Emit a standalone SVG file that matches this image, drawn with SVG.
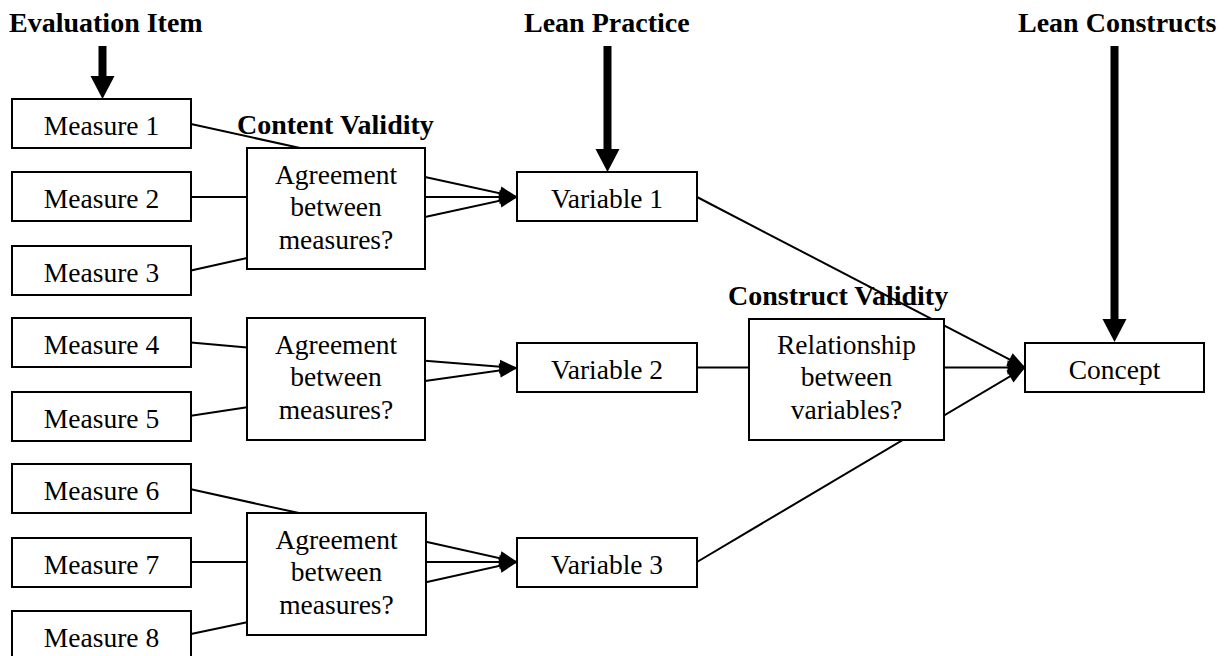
<svg xmlns="http://www.w3.org/2000/svg" width="1228" height="656" viewBox="0 0 1228 656">
  <style>
    .box { fill: #ffffff; stroke: #000000; stroke-width: 2; }
    .node-text { font-family: "Liberation Serif", "Times New Roman", serif; font-size: 27.5px; fill: #000000; text-anchor: middle; }
    .heading { font-family: "Liberation Serif", "Times New Roman", serif; font-size: 28px; font-weight: bold; fill: #000000; }
    .link { fill: none; stroke: #000000; stroke-width: 2; }
    .arrow { fill: none; stroke: #000000; stroke-width: 2; marker-end: url(#head); }
    .thick { fill: none; stroke: #000000; stroke-width: 8; marker-end: url(#bighead); }
  </style>
  <defs>
    <marker id="head" markerUnits="userSpaceOnUse" markerWidth="20" markerHeight="16" viewBox="0 -8 19 16" refX="17.5" refY="0" orient="auto">
      <path d="M0,-7 L18,0 L0,7 Z" fill="#000000"/>
    </marker>
    <marker id="bighead" markerUnits="userSpaceOnUse" markerWidth="26" markerHeight="26" viewBox="0 -13 24 26" refX="0" refY="0" orient="auto">
      <path d="M0,-12 L23,0 L0,12 Z" fill="#000000"/>
    </marker>
  </defs>

  <rect width="1228" height="656" fill="#ffffff"/>

  <!-- column headings and validity labels -->
  <g id="evaluation-item"><text class="heading" x="9" y="32">Evaluation Item</text></g>
  <g id="lean-practice"><text class="heading" x="524" y="32">Lean Practice</text></g>
  <g id="lean-constructs"><text class="heading" x="1018" y="32">Lean Constructs</text></g>
  <g id="content-validity"><text class="heading" x="237" y="134">Content Validity</text></g>
  <g id="construct-validity"><text class="heading" x="728" y="305">Construct Validity</text></g>

  <g id="connectors">
    <!-- heading arrows -->
    <line class="thick" x1="102.5" y1="46" x2="102.5" y2="76"/>
    <line class="thick" x1="607.5" y1="46" x2="607.5" y2="149"/>
    <line class="thick" x1="1114.5" y1="46" x2="1114.5" y2="319"/>

    <!-- measures to agreement checks -->
    <line class="link" x1="191" y1="124" x2="300" y2="148"/>
    <line class="link" x1="191" y1="197" x2="247" y2="197"/>
    <line class="link" x1="191" y1="270.5" x2="247" y2="258"/>
    <line class="link" x1="191" y1="342.5" x2="247" y2="347.5"/>
    <line class="link" x1="191" y1="415.7" x2="247" y2="407.3"/>
    <line class="link" x1="191" y1="489.3" x2="300" y2="513.3"/>
    <line class="link" x1="191" y1="562" x2="247" y2="562"/>
    <line class="link" x1="191" y1="634" x2="247" y2="622.3"/>

    <!-- agreement checks to variables -->
    <line class="arrow" x1="425" y1="177" x2="517" y2="197"/>
    <line class="arrow" x1="425" y1="197" x2="517" y2="197"/>
    <line class="arrow" x1="425" y1="217" x2="517" y2="197"/>
    <line class="arrow" x1="425" y1="360.7" x2="517" y2="368"/>
    <line class="arrow" x1="425" y1="381" x2="517" y2="368"/>
    <line class="arrow" x1="426" y1="541.7" x2="517" y2="562"/>
    <line class="arrow" x1="426" y1="562" x2="517" y2="562"/>
    <line class="arrow" x1="426" y1="582.3" x2="517" y2="562"/>

    <!-- variables to concept -->
    <line class="arrow" x1="697" y1="197" x2="1025" y2="367.5"/>
    <line class="link" x1="697" y1="367.5" x2="749" y2="367.5"/>
    <line class="arrow" x1="944" y1="367.5" x2="1025" y2="367.5"/>
    <line class="arrow" x1="697" y1="562" x2="1025" y2="367.5"/>
  </g>

  <!-- measures -->
  <g id="measure-1"><rect class="box" x="12" y="99" width="179" height="49"/><text class="node-text" x="101.5" y="135">Measure 1</text></g>
  <g id="measure-2"><rect class="box" x="12" y="172" width="179" height="49"/><text class="node-text" x="101.5" y="208">Measure 2</text></g>
  <g id="measure-3"><rect class="box" x="12" y="246" width="179" height="49"/><text class="node-text" x="101.5" y="282">Measure 3</text></g>
  <g id="measure-4"><rect class="box" x="12" y="318" width="179" height="49"/><text class="node-text" x="101.5" y="354">Measure 4</text></g>
  <g id="measure-5"><rect class="box" x="12" y="392" width="179" height="49"/><text class="node-text" x="101.5" y="428">Measure 5</text></g>
  <g id="measure-6"><rect class="box" x="12" y="464" width="179" height="49"/><text class="node-text" x="101.5" y="500">Measure 6</text></g>
  <g id="measure-7"><rect class="box" x="12" y="538" width="179" height="49"/><text class="node-text" x="101.5" y="574">Measure 7</text></g>
  <g id="measure-8"><rect class="box" x="12" y="611" width="179" height="49"/><text class="node-text" x="101.5" y="647">Measure 8</text></g>

  <!-- agreement checks -->
  <g id="agreement-1">
    <rect class="box" x="247" y="148" width="178" height="121"/>
    <text class="node-text" x="336" y="183.5">Agreement</text>
    <text class="node-text" x="336" y="216">between</text>
    <text class="node-text" x="336" y="248.5">measures?</text>
  </g>
  <g id="agreement-2">
    <rect class="box" x="247" y="318" width="178" height="122"/>
    <text class="node-text" x="336" y="353.5">Agreement</text>
    <text class="node-text" x="336" y="386">between</text>
    <text class="node-text" x="336" y="418.5">measures?</text>
  </g>
  <g id="agreement-3">
    <rect class="box" x="247" y="513" width="179" height="122"/>
    <text class="node-text" x="336.5" y="548.5">Agreement</text>
    <text class="node-text" x="336.5" y="581">between</text>
    <text class="node-text" x="336.5" y="613.5">measures?</text>
  </g>

  <!-- variables -->
  <g id="variable-1"><rect class="box" x="517" y="172" width="180" height="49"/><text class="node-text" x="607" y="208">Variable 1</text></g>
  <g id="variable-2"><rect class="box" x="517" y="343" width="180" height="49"/><text class="node-text" x="607" y="379">Variable 2</text></g>
  <g id="variable-3"><rect class="box" x="517" y="538" width="180" height="49"/><text class="node-text" x="607" y="574">Variable 3</text></g>

  <!-- construct check and concept -->
  <g id="relationship">
    <rect class="box" x="749" y="319" width="195" height="121"/>
    <text class="node-text" x="846.5" y="353.5">Relationship</text>
    <text class="node-text" x="846.5" y="386">between</text>
    <text class="node-text" x="846.5" y="418.5">variables?</text>
  </g>
  <g id="concept"><rect class="box" x="1025" y="343" width="179" height="49"/><text class="node-text" x="1114.5" y="379">Concept</text></g>
</svg>
